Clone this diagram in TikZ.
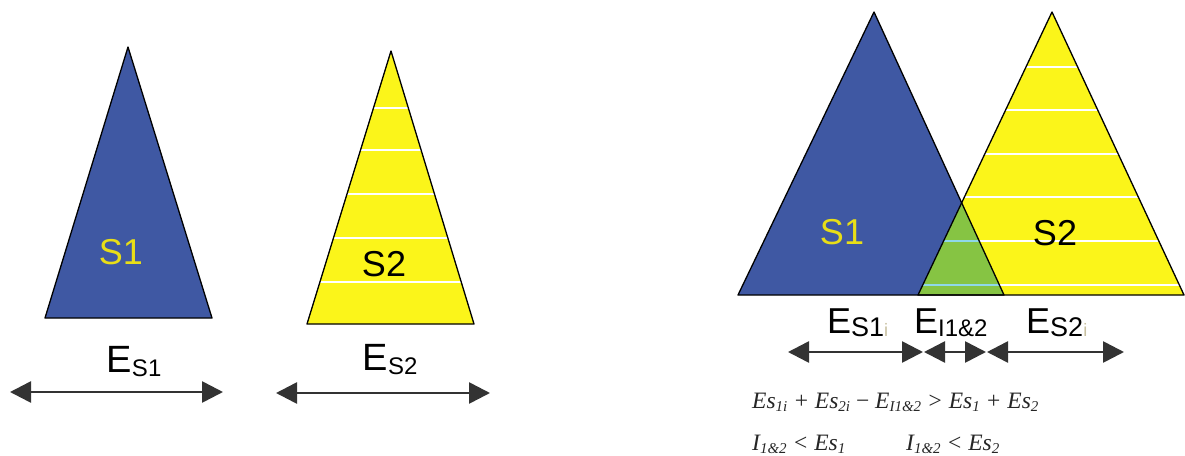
\documentclass[tikz,border=0pt]{standalone}
\usepackage{fontspec}
\setsansfont{Liberation Sans}
\setmainfont{Liberation Serif}
\usetikzlibrary{arrows.meta,intersections,calc}
\definecolor{sblue}{HTML}{3F58A3}
\definecolor{syellow}{HTML}{FBF51A}
\definecolor{sgreen}{HTML}{86C443}
\definecolor{sstripe}{HTML}{8FD8E8}
\definecolor{arrowgray}{HTML}{333333}
\definecolor{faint}{HTML}{C8C0A0}
\newcommand\ELab[3]{\fontsize{#1}{#1}\selectfont E\raisebox{-0.2ex}{\fontsize{#2}{#2}\selectfont #3}}
\newcommand\Sb[1]{\raisebox{-0.35ex}{\fontsize{15}{15}\selectfont #1}}
\begin{document}
\begin{tikzpicture}[x=1pt,y=-1pt,
  tri/.style={draw=black,line width=1.3pt,line join=round},
  stripe/.style={white,line width=1.6pt},
  dimarrow/.style={draw=arrowgray,line width=2.6pt,{Triangle[length=21pt,width=21pt]}-{Triangle[length=21pt,width=21pt]}},
  slabel/.style={font=\sffamily\fontsize{36}{36}\selectfont,inner sep=0pt},
  elabel/.style={font=\sffamily,inner sep=0pt,anchor=base},
  formula/.style={font=\rmfamily\itshape\fontsize{23.5}{23.5}\selectfont,text=black!85,inner sep=0pt,anchor=base west}]
\useasboundingbox (0,0) rectangle (1185,455);
\fill[white] (0,0) rectangle (1185,455);

% ---------- left S1 ----------
\coordinate (a1) at (128,47);
\coordinate (b1) at (45,318);
\coordinate (c1) at (212,318);
\fill[sblue] (a1) -- (b1) -- (c1) -- cycle;
\draw[tri] (a1) -- (b1) -- (c1) -- cycle;
\node[slabel,text=yellow!90!black] (ls1) at (121,252) {S1};

% ---------- left S2 ----------
\coordinate (a2) at (391,51);
\coordinate (b2) at (307,324);
\coordinate (c2) at (474,324);
\fill[syellow] (a2) -- (b2) -- (c2) -- cycle;
\begin{scope}
  \clip (a2) -- (b2) -- (c2) -- cycle;
  \foreach \yy in {108,150,194,238,282} \draw[stripe] (250,\yy) -- (520,\yy);
\end{scope}
\draw[tri] (a2) -- (b2) -- (c2) -- cycle;
\node[slabel,text=black] (ls2) at (384,264) {S2};

% ---------- left arrows ----------
\coordinate (l1a) at (10,392);
\coordinate (l1b) at (223,392);
\draw[dimarrow] (l1a) -- (l1b);
\node[elabel] (les1) at (134,372) {\ELab{38}{24}{S1}};
\coordinate (l2a) at (276,393);
\coordinate (l2b) at (490,393);
\draw[dimarrow] (l2a) -- (l2b);
\node[elabel] (les2) at (390,370) {\ELab{38}{24}{S2}};

% ---------- right overlapping triangles ----------
\coordinate (A1) at (874,12);
\coordinate (B1) at (738,295);
\coordinate (C1) at (1004,295);
\coordinate (A2) at (1052,12);
\coordinate (B2) at (918,295);
\coordinate (C2) at (1184,295);
\path[name path=e1] (A1) -- (C1);
\path[name path=e2] (A2) -- (B2);
\path[name intersections={of=e1 and e2,by=X}];

\fill[sblue] (A1) -- (B1) -- (C1) -- cycle;
\fill[syellow] (A2) -- (B2) -- (C2) -- cycle;
\begin{scope}
  \clip (A2) -- (B2) -- (C2) -- cycle;
  \foreach \yy in {67,110,154,197,241,285} \draw[stripe] (900,\yy) -- (1185,\yy);
\end{scope}
\fill[sgreen] (X) -- (B2) -- (C1) -- cycle;
\begin{scope}
  \clip (X) -- (B2) -- (C1) -- cycle;
  \foreach \yy in {241,285} \draw[sstripe,line width=1.6pt] (900,\yy) -- (1010,\yy);
\end{scope}
\draw[tri] (A1) -- (B1) -- (C1) -- cycle;
\draw[tri] (A2) -- (B2) -- (C2) -- cycle;
\node[slabel,text=yellow!90!black] (rs1) at (842,232) {S1};
\node[slabel,text=black] (rs2) at (1055,233) {S2};

% ---------- right arrows ----------
\coordinate (r1a) at (788,352);
\coordinate (r1b) at (923,352);
\coordinate (r2a) at (924,352);
\coordinate (r2b) at (986,352);
\coordinate (r3a) at (987,352);
\coordinate (r3b) at (1124,352);
\draw[dimarrow] (r1a) -- (r1b);
\draw[dimarrow] (r2a) -- (r2b);
\draw[dimarrow] (r3a) -- (r3b);
\node[elabel,anchor=base west] (res1) at (827,333) {\ELab{36}{27}{S1\textcolor{faint}{\fontsize{18}{18}\selectfont i}}};
\node[elabel,anchor=base west] (rei) at (914,333) {\ELab{36}{24}{I1\&2}};
\node[elabel,anchor=base west] (res2) at (1026,333) {\ELab{36}{27}{S2\textcolor{faint}{\fontsize{18}{18}\selectfont i}}};

% ---------- formulas ----------
\node[formula] (f1) at (752,408) {Es\Sb{1i} + Es\Sb{2i} {\upshape\textminus} E\Sb{I1\&2} > Es\Sb{1} + Es\Sb{2}};
\node[formula] (f2) at (752,450) {I\Sb{1\&2} < Es\Sb{1}};
\node[formula] (f3) at (906,450) {I\Sb{1\&2} < Es\Sb{2}};
\end{tikzpicture}
\end{document}
